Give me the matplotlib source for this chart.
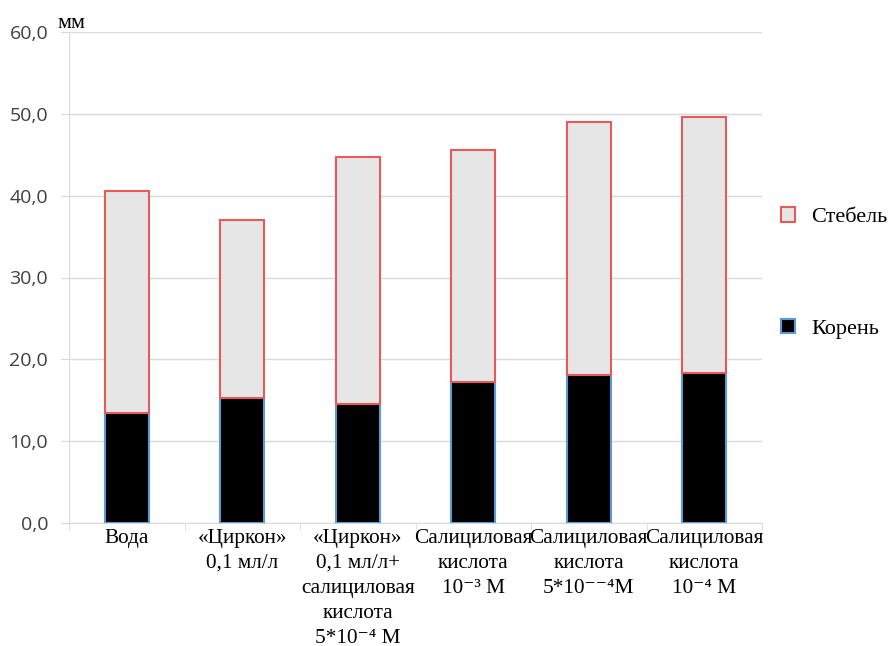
import matplotlib
matplotlib.use("Agg")
import matplotlib.pyplot as plt
from matplotlib.patches import Patch
import numpy as np

categories = [
    "Вода",
    "«Циркон»\n0,1 мл/л",
    "«Циркон»\n0,1 мл/л+\nсалициловая\nкислота\n5*10⁻⁴ М",
    "Салициловая\nкислота\n10⁻³ М",
    "Салициловая\nкислота\n5*10⁻⁻⁴М",
    "Салициловая\nкислота\n10⁻⁴ М",
]
root = [13.5, 15.25, 14.6, 17.2, 18.1, 18.3]
stem = [27.1, 21.75, 30.1, 28.4, 30.95, 31.3]
yticks = [0, 10, 20, 30, 40, 50, 60]
ytick_labels = ["0,0", "10,0", "20,0", "30,0", "40,0", "50,0", "60,0"]

serif = ["Liberation Serif", "DejaVu Serif"]

fig = plt.figure(figsize=(8.96, 6.46), dpi=100)
ax = fig.add_axes([69/896, 1 - 523/646, (762 - 69)/896, (523 - 32)/646])

x = np.arange(len(categories))
w = 0.38
ax.bar(x, root, width=w, color="black", edgecolor="#5B9BD5", linewidth=1.5, zorder=3, label="Корень")
ax.bar(x, stem, width=w, bottom=root, color="#E6E6E6", edgecolor="#E85A5A", linewidth=1.5, zorder=3, label="Стебель")

ax.set_xlim(-0.5, len(categories) - 0.5)
ax.set_ylim(0, 60)
ax.set_yticks(yticks)
ax.set_yticklabels(ytick_labels, fontfamily="Open Sans", fontsize=14, color="#404040")
ax.yaxis.grid(True, color="#D9D9D9", linewidth=1, zorder=0)
ax.tick_params(axis="y", length=6, color="#D9D9D9", pad=9)

ax.set_xticks(x)
ax.set_xticklabels(categories, fontfamily=serif, fontsize=15.3, linespacing=1.43)
ax.tick_params(axis="x", which="major", length=0, pad=4)
ax.set_xticks(np.arange(-0.5, len(categories) + 0.5, 1), minor=True)
ax.tick_params(axis="x", which="minor", length=5, color="#D9D9D9")

for s in ["top", "right"]:
    ax.spines[s].set_visible(False)
ax.spines["left"].set_color("#D9D9D9")
ax.spines["bottom"].set_color("#D9D9D9")

fig.text(57/896, 1 - 28/646, "мм", fontfamily=serif, fontsize=16, ha="left", va="baseline")

handles = [Patch(facecolor="#E6E6E6", edgecolor="#E85A5A", linewidth=1.5, label="Стебель"),
           Patch(facecolor="black", edgecolor="#5B9BD5", linewidth=1.5, label="Корень")]
fig.legend(handles=handles, loc="center left", bbox_to_anchor=(781/896, 1 - 273/646),
           frameon=False, prop={"family": serif, "size": 16}, handlelength=0.65, handleheight=0.65,
           handletextpad=0.7, labelspacing=4.1, borderpad=0, borderaxespad=0)

fig.savefig("out.png", dpi=100)
